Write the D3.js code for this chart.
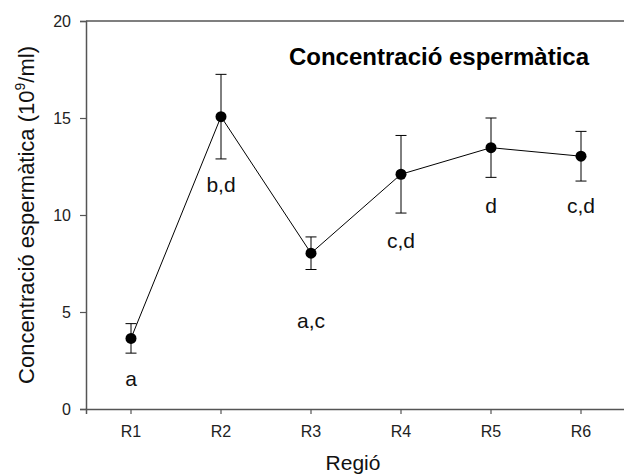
<!DOCTYPE html>
<html>
<head>
<meta charset="utf-8">
<script src="https://cdn.jsdelivr.net/npm/d3@7"></script>
<style>
  body { margin: 0; background: #fff; }
  svg { font-family: Arial, "Liberation Sans", sans-serif; }
</style>
</head>
<body>
<svg id="chart" width="624" height="475"></svg>
<script>
  // data
  const regions = ["R1", "R2", "R3", "R4", "R5", "R6"];
  const means = [3.64, 15.07, 8.03, 12.1, 13.47, 13.03];
  const errs = [0.76, 2.18, 0.84, 2.0, 1.53, 1.28];
  const letters = ["a", "b,d", "a,c", "c,d", "d", "c,d"];
  const letterY = [1.2, 11.2, 4.2, 8.3, 10.1, 10.1]; // baseline of the letters, in data units
  const yTicks = [0, 5, 10, 15, 20];

  const svg = d3.select("#chart");
  const plotLeft = 86, plotRight = 626, plotTop = 21, plotBottom = 409;

  const x = d3.scaleBand().domain(regions).range([plotLeft, plotRight]);
  const y = d3.scaleLinear().domain([0, 20]).range([plotBottom, plotTop]);
  const cx = d => x(d) + x.bandwidth() / 2;

  // frame: top line
  svg.append("line")
      .attr("x1", plotLeft).attr("x2", plotRight)
      .attr("y1", plotTop).attr("y2", plotTop)
      .attr("stroke", "#555").attr("stroke-width", 1.5);

  // AXES
  const yAxis = svg.append("g")
      .attr("transform", `translate(${plotLeft},0)`)
      .call(d3.axisLeft(y).tickValues(yTicks).tickSize(6).tickPadding(9));
  const xAxis = svg.append("g")
      .attr("transform", `translate(0,${plotBottom})`)
      .call(d3.axisBottom(x).tickSize(5).tickPadding(12));
  [yAxis, xAxis].forEach(g => {
    g.select(".domain").attr("stroke", "#555").attr("stroke-width", 1.5);
    g.selectAll(".tick line").attr("stroke", "#555").attr("stroke-width", 1.2);
    g.selectAll(".tick text").attr("font-size", 16).attr("fill", "#222")
        .attr("font-family", "Arial, 'Liberation Sans', sans-serif");
  });

  // LINE
  const line = d3.line().x((d, i) => cx(regions[i])).y(d => y(d));
  svg.append("path")
      .datum(means)
      .attr("d", line)
      .attr("fill", "none")
      .attr("stroke", "#000")
      .attr("stroke-width", 1);

  // ERROR BARS
  const bars = svg.append("g").selectAll("g").data(means).enter().append("g");
  bars.append("line")
      .attr("x1", (d, i) => cx(regions[i])).attr("x2", (d, i) => cx(regions[i]))
      .attr("y1", (d, i) => y(d - errs[i])).attr("y2", (d, i) => y(d + errs[i]))
      .attr("stroke", "#000");
  [-1, 1].forEach(s => {
    bars.append("line")
        .attr("x1", (d, i) => cx(regions[i]) - 5.5).attr("x2", (d, i) => cx(regions[i]) + 5.5)
        .attr("y1", (d, i) => y(d + s * errs[i])).attr("y2", (d, i) => y(d + s * errs[i]))
        .attr("stroke", "#000");
  });

  // POINTS
  svg.append("g").selectAll("circle").data(means).enter().append("circle")
      .attr("cx", (d, i) => cx(regions[i]))
      .attr("cy", d => y(d))
      .attr("r", 5.5)
      .attr("fill", "#000");

  // LETTERS
  svg.append("g").selectAll("text").data(letters).enter().append("text")
      .attr("x", (d, i) => cx(regions[i]))
      .attr("y", (d, i) => y(letterY[i]))
      .attr("text-anchor", "middle")
      .attr("font-size", 21)
      .attr("fill", "#111")
      .text(d => d);

  // TITLES
  svg.append("text")
      .attr("x", 439).attr("y", 65)
      .attr("text-anchor", "middle")
      .attr("font-size", 24).attr("font-weight", "bold")
      .attr("fill", "#000")
      .text("Concentració espermàtica");

  svg.append("text")
      .attr("x", 353).attr("y", 470)
      .attr("text-anchor", "middle")
      .attr("font-size", 21).attr("fill", "#111")
      .text("Regió");

  const yt = svg.append("text")
      .attr("transform", `translate(34,${(plotTop + plotBottom) / 2}) rotate(-90)`)
      .attr("text-anchor", "middle")
      .attr("font-size", 22).attr("fill", "#111");
  yt.append("tspan").text("Concentració espermàtica (10");
  yt.append("tspan").attr("font-size", 14).attr("dy", -9).text("9");
  yt.append("tspan").attr("dy", 9).text("/ml)");
</script>
</body>
</html>
